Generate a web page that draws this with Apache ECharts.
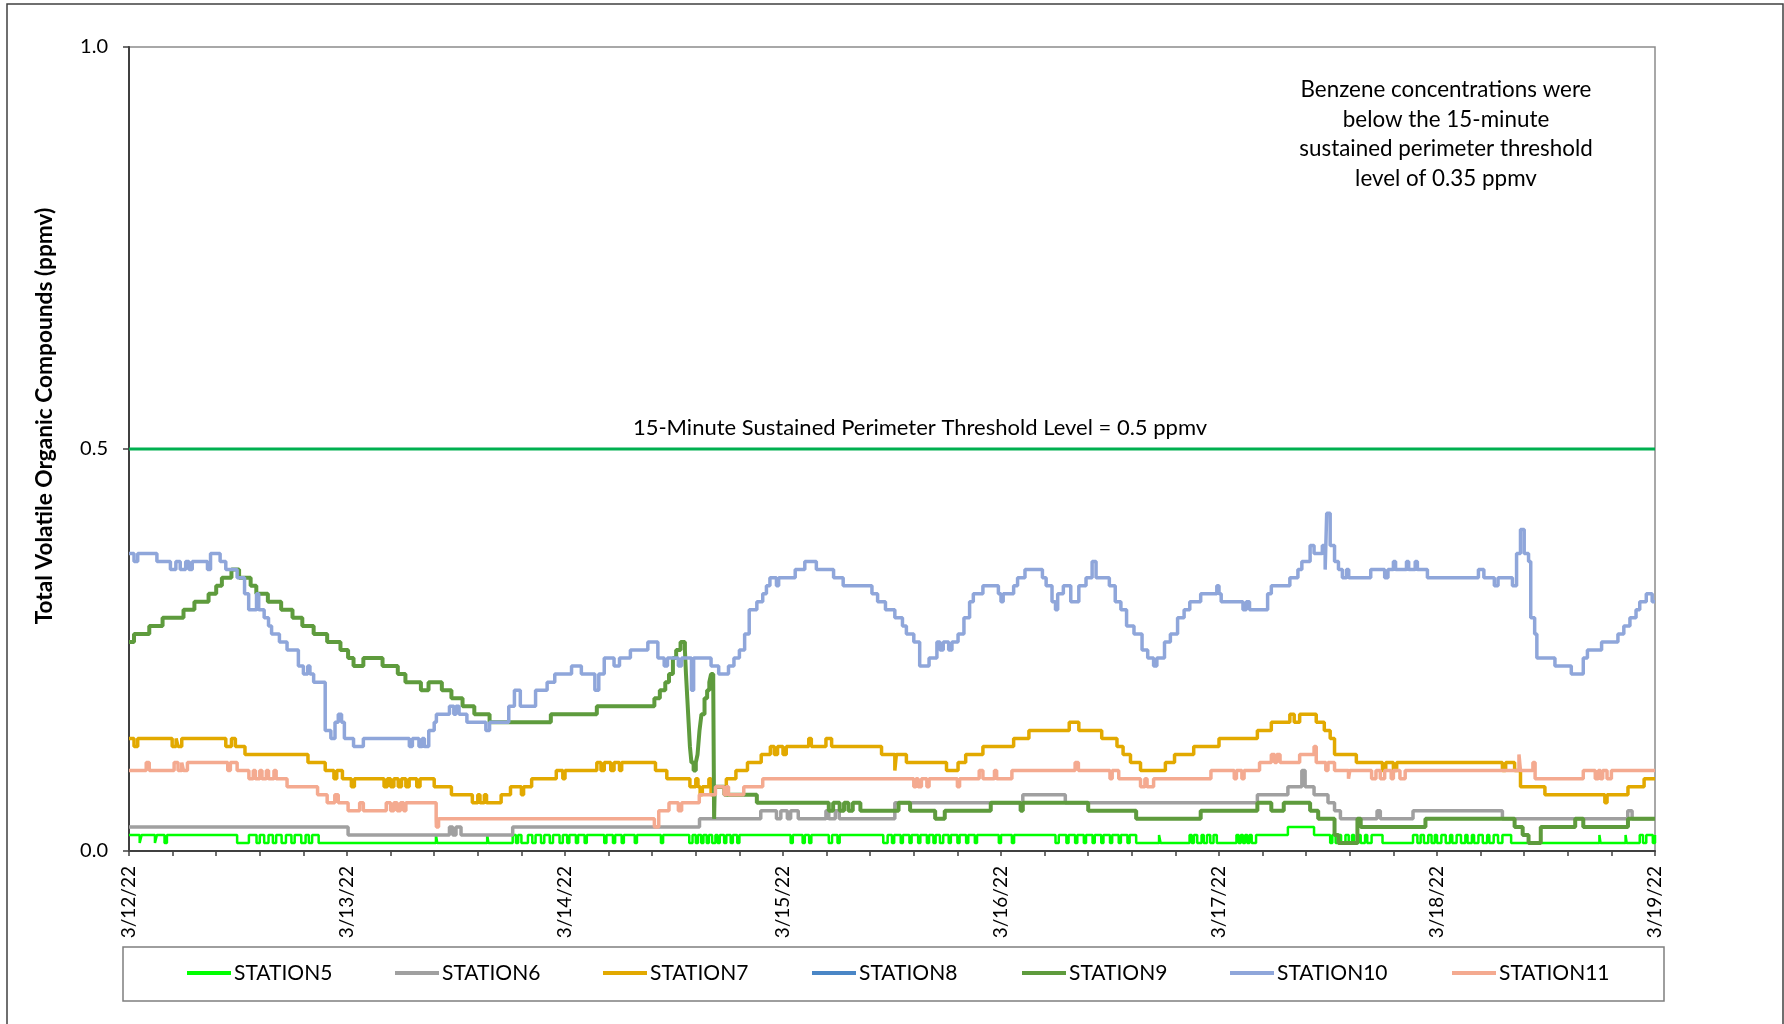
<!DOCTYPE html>
<html>
<head>
<meta charset="utf-8">
<script src="https://cdn.jsdelivr.net/npm/echarts@6/dist/echarts.min.js"></script>
<style>
html,body{margin:0;padding:0;background:#fff;}
#chart{width:1784px;height:1024px;}
</style>
</head>
<body>
<div id="chart"></div>
<script>
// x values = days since 3/12/22 00:00; y values = ppmv. Each pair is a change point (value held until next).
const dayLabels = ['3/12/22','3/13/22','3/14/22','3/15/22','3/16/22','3/17/22','3/18/22','3/19/22'];
const yTicks = [0, 0.5, 1.0];
const seriesNames = ['STATION5','STATION6','STATION7','STATION8','STATION9','STATION10','STATION11'];
const thresholdValue = 0.5;
const thresholdLine = [[0, thresholdValue], [7, thresholdValue]];

const station5 = [[0,0.02],[0.049,0.01],[0.058,0.02],[0.119,0.01],[0.128,0.02],[0.163,0.01],[0.174,0.02],
[0.496,0.01],[0.55,0.02],[0.585,0.01],[0.6,0.02],[0.62,0.01],[0.64,0.02],[0.66,0.01],[0.675,0.02],[0.7,0.01],[0.72,0.02],[0.745,0.01],[0.76,0.02],[0.79,0.01],[0.81,0.02],[0.825,0.01],[0.84,0.02],[0.87,0.01],
[1.408,0.02],[1.414,0.01],[1.643,0.02],[1.649,0.01],
[1.76,0.02],[1.775,0.01],[1.785,0.02],[1.8,0.01],[1.83,0.02],[1.85,0.01],[1.865,0.02],[1.89,0.01],[1.905,0.02],[1.93,0.01],[1.945,0.02],[1.975,0.01],[1.99,0.02],[2.01,0.01],[2.02,0.02],[2.05,0.01],[2.06,0.02],[2.09,0.01],[2.1,0.02],[2.18,0.01],[2.19,0.02],[2.22,0.01],[2.23,0.02],[2.26,0.01],[2.27,0.02],[2.32,0.01],[2.33,0.02],[2.44,0.01],[2.45,0.02],[2.57,0.01],[2.585,0.02],
[2.6,0.01],[2.61,0.02],[2.625,0.01],[2.635,0.02],[2.65,0.01],[2.66,0.02],[2.675,0.01],[2.69,0.02],[2.7,0.01],[2.71,0.02],[2.73,0.01],[2.74,0.02],[2.76,0.01],[2.77,0.02],[2.79,0.01],[2.8,0.02],
[3.035,0.01],[3.045,0.02],[3.09,0.01],[3.1,0.02],[3.12,0.01],[3.13,0.02],[3.21,0.01],[3.225,0.02],[3.25,0.01],[3.26,0.02],
[3.46,0.01],[3.48,0.02],[3.5,0.01],[3.51,0.02],[3.54,0.01],[3.55,0.02],[3.58,0.01],[3.59,0.02],[3.62,0.01],[3.63,0.02],[3.66,0.01],[3.67,0.02],[3.69,0.01],[3.7,0.02],[3.72,0.01],[3.735,0.02],[3.76,0.01],[3.77,0.02],[3.8,0.01],[3.81,0.02],[3.84,0.01],[3.85,0.02],[3.88,0.01],[3.89,0.02],
[3.99,0.01],[4.0,0.02],[4.05,0.01],[4.06,0.02],
[4.25,0.01],[4.265,0.02],[4.3,0.01],[4.31,0.02],[4.34,0.01],[4.35,0.02],[4.38,0.01],[4.39,0.02],[4.42,0.01],[4.43,0.02],[4.46,0.01],[4.47,0.02],[4.5,0.01],[4.51,0.02],[4.54,0.01],[4.55,0.02],[4.58,0.01],[4.59,0.02],[4.62,0.01],
[4.725,0.02],[4.732,0.01],[4.865,0.02],[4.875,0.01],[4.885,0.02],[4.9,0.01],[4.92,0.02],[4.93,0.01],[4.945,0.02],[4.96,0.01],[4.975,0.02],[4.99,0.01],
[5.08,0.02],[5.09,0.01],[5.1,0.02],[5.11,0.01],[5.12,0.02],[5.13,0.01],[5.14,0.02],[5.15,0.01],[5.17,0.02],[5.316,0.03],[5.436,0.02],
[5.51,0.01],[5.52,0.02],[5.535,0.01],[5.55,0.02],[5.56,0.01],[5.58,0.02],[5.595,0.01],[5.61,0.02],[5.62,0.01],[5.64,0.02],[5.65,0.01],[5.67,0.02],[5.68,0.01],[5.7,0.02],[5.75,0.01],
[5.89,0.02],[5.91,0.01],[5.925,0.02],[5.94,0.01],[5.96,0.02],[5.975,0.01],[5.99,0.02],[6.0,0.01],[6.02,0.02],[6.04,0.01],[6.06,0.02],[6.07,0.01],[6.09,0.02],[6.11,0.01],[6.13,0.02],[6.14,0.01],[6.16,0.02],[6.17,0.01],[6.19,0.02],[6.21,0.01],[6.23,0.02],[6.24,0.01],[6.26,0.02],[6.28,0.01],[6.3,0.02],[6.34,0.01],
[6.745,0.02],[6.75,0.01],[6.865,0.02],[6.87,0.01],[6.93,0.02],[6.945,0.01],[6.96,0.02],[6.99,0.01],[7,0.02]];

const station6 = [[0,0.03],[1.005,0.02],[1.47,0.03],[1.485,0.02],[1.5,0.03],[1.523,0.02],[1.76,0.03],[2.617,0.04],[2.898,0.05],[2.97,0.04],[2.99,0.05],[3.02,0.04],[3.035,0.05],[3.07,0.04],[3.197,0.05],[3.21,0.04],[3.24,0.05],[3.258,0.04],[3.513,0.06],[4.1,0.07],[4.295,0.06],[5.176,0.07],[5.316,0.08],[5.38,0.10],[5.395,0.08],[5.436,0.07],[5.5,0.06],[5.53,0.05],[5.557,0.04],[5.725,0.05],[5.74,0.04],[5.89,0.05],[6.3,0.04],[6.875,0.05],[6.895,0.04],[7,0.04]];

const station7 = [[0,0.14],[0.023,0.13],[0.04,0.14],[0.198,0.13],[0.216,0.14],[0.225,0.13],[0.242,0.14],[0.444,0.13],[0.47,0.14],[0.488,0.13],[0.532,0.12],[0.821,0.11],[0.9,0.10],[0.94,0.09],[0.953,0.10],[0.979,0.09],[1.02,0.08],[1.034,0.09],[1.17,0.08],[1.185,0.09],[1.2,0.08],[1.215,0.09],[1.235,0.08],[1.25,0.09],[1.27,0.08],[1.285,0.09],[1.32,0.08],[1.335,0.09],[1.4,0.08],[1.479,0.07],[1.575,0.06],[1.6,0.07],[1.61,0.06],[1.63,0.07],[1.64,0.06],[1.707,0.07],[1.75,0.08],[1.8,0.07],[1.81,0.08],[1.847,0.09],[1.96,0.10],[1.99,0.09],[2.0,0.10],[2.146,0.11],[2.165,0.10],[2.18,0.11],[2.21,0.10],[2.225,0.11],[2.25,0.10],[2.26,0.11],[2.415,0.10],[2.467,0.09],[2.573,0.08],[2.6,0.09],[2.61,0.08],[2.62,0.07],[2.63,0.08],[2.66,0.09],[2.67,0.07],[2.68,0.08],[2.74,0.09],[2.784,0.10],[2.837,0.11],[2.9,0.12],[2.942,0.13],[2.96,0.12],[2.975,0.13],[3.0,0.12],[3.015,0.13],[3.118,0.14],[3.13,0.13],[3.197,0.14],[3.223,0.13],[3.452,0.12],[3.513,0.10],[3.52,0.12],[3.566,0.11],[3.75,0.10],[3.803,0.11],[3.838,0.12],[3.917,0.13],[4.058,0.14],[4.128,0.15],[4.313,0.16],[4.357,0.15],[4.462,0.14],[4.532,0.13],[4.56,0.12],[4.594,0.11],[4.64,0.10],[4.754,0.11],[4.796,0.12],[4.884,0.13],[5.0,0.14],[5.176,0.15],[5.24,0.16],[5.325,0.17],[5.345,0.16],[5.37,0.17],[5.446,0.16],[5.483,0.15],[5.51,0.14],[5.53,0.12],[5.63,0.11],[5.75,0.10],[5.765,0.11],[5.8,0.10],[5.815,0.11],[6.3,0.10],[6.315,0.11],[6.356,0.10],[6.383,0.08],[6.495,0.07],[6.77,0.06],[6.78,0.07],[6.876,0.08],[6.95,0.09],[7,0.09]];

const station8 = [];

const station9 = [[0,0.26],[0.023,0.27],[0.093,0.28],[0.154,0.29],[0.25,0.30],[0.3,0.31],[0.365,0.32],[0.4,0.33],[0.426,0.34],[0.47,0.35],[0.505,0.34],[0.558,0.33],[0.584,0.32],[0.637,0.31],[0.698,0.30],[0.75,0.29],[0.795,0.28],[0.847,0.27],[0.909,0.26],[0.97,0.25],[1.005,0.24],[1.03,0.23],[1.075,0.24],[1.163,0.23],[1.233,0.22],[1.268,0.21],[1.339,0.20],[1.374,0.21],[1.435,0.20],[1.479,0.19],[1.53,0.18],[1.584,0.17],[1.654,0.16],[1.935,0.17],[2.146,0.18],[2.41,0.19],[2.435,0.20],[2.46,0.21],[2.477,0.22],[2.495,0.24],[2.51,0.25],[2.53,0.26],[2.55,0.25],[2.555,0.22],[2.561,0.19],[2.567,0.16],[2.573,0.13],[2.58,0.11],[2.59,0.10],[2.6,0.11],[2.608,0.12],[2.617,0.15],[2.626,0.17],[2.64,0.19],[2.652,0.20],[2.662,0.21],[2.67,0.22],[2.68,0.21],[2.684,0.04],[2.687,0.08],[2.731,0.07],[2.88,0.06],[3.21,0.05],[3.23,0.06],[3.26,0.05],[3.28,0.06],[3.3,0.05],[3.32,0.06],[3.355,0.05],[3.53,0.06],[3.583,0.05],[3.698,0.04],[3.742,0.05],[3.953,0.06],[4.09,0.05],[4.1,0.06],[4.40,0.05],[4.62,0.04],[4.916,0.05],[5.176,0.06],[5.24,0.05],[5.297,0.06],[5.418,0.05],[5.455,0.04],[5.53,0.02],[5.548,0.01],[5.635,0.04],[5.65,0.03],[5.947,0.04],[6.356,0.03],[6.393,0.02],[6.42,0.01],[6.476,0.03],[6.634,0.04],[6.671,0.03],[6.876,0.04],[7,0.04]];

const station10 = [[0,0.37],[0.023,0.36],[0.04,0.37],[0.128,0.36],[0.19,0.35],[0.215,0.36],[0.235,0.35],[0.26,0.36],[0.275,0.35],[0.29,0.36],[0.36,0.35],[0.374,0.37],[0.418,0.36],[0.444,0.35],[0.496,0.34],[0.53,0.32],[0.549,0.30],[0.585,0.32],[0.595,0.30],[0.62,0.29],[0.64,0.28],[0.654,0.27],[0.69,0.26],[0.725,0.25],[0.777,0.23],[0.8,0.22],[0.82,0.23],[0.83,0.22],[0.847,0.21],[0.9,0.15],[0.926,0.14],[0.945,0.16],[0.96,0.17],[0.975,0.16],[0.988,0.14],[1.03,0.13],[1.075,0.14],[1.286,0.13],[1.3,0.14],[1.33,0.13],[1.345,0.14],[1.355,0.13],[1.375,0.15],[1.4,0.16],[1.41,0.17],[1.47,0.18],[1.49,0.17],[1.5,0.18],[1.514,0.17],[1.55,0.16],[1.637,0.15],[1.654,0.16],[1.742,0.18],[1.768,0.20],[1.795,0.18],[1.865,0.20],[1.918,0.21],[1.953,0.22],[2.03,0.23],[2.075,0.22],[2.137,0.20],[2.155,0.22],[2.18,0.24],[2.225,0.23],[2.25,0.24],[2.3,0.25],[2.38,0.26],[2.426,0.24],[2.455,0.23],[2.47,0.24],[2.52,0.23],[2.535,0.24],[2.58,0.20],[2.59,0.24],[2.67,0.23],[2.705,0.22],[2.75,0.23],[2.775,0.24],[2.8,0.25],[2.824,0.27],[2.845,0.30],[2.88,0.31],[2.907,0.32],[2.924,0.33],[2.94,0.34],[2.97,0.33],[2.98,0.34],[3.056,0.35],[3.1,0.36],[3.153,0.35],[3.232,0.34],[3.276,0.33],[3.408,0.32],[3.434,0.31],[3.47,0.30],[3.513,0.29],[3.548,0.28],[3.566,0.27],[3.6,0.26],[3.627,0.23],[3.67,0.24],[3.706,0.26],[3.72,0.25],[3.735,0.26],[3.76,0.25],[3.775,0.26],[3.803,0.27],[3.83,0.29],[3.856,0.31],[3.873,0.32],[3.917,0.33],[3.988,0.32],[4.0,0.31],[4.01,0.32],[4.058,0.33],[4.076,0.34],[4.11,0.35],[4.19,0.34],[4.207,0.33],[4.234,0.31],[4.25,0.30],[4.26,0.32],[4.286,0.33],[4.32,0.31],[4.357,0.33],[4.39,0.34],[4.418,0.36],[4.436,0.34],[4.497,0.33],[4.524,0.31],[4.55,0.30],[4.576,0.28],[4.61,0.27],[4.647,0.25],[4.673,0.24],[4.7,0.23],[4.715,0.24],[4.75,0.26],[4.777,0.27],[4.81,0.29],[4.84,0.30],[4.866,0.31],[4.916,0.32],[4.99,0.33],[5.0,0.32],[5.01,0.31],[5.11,0.30],[5.125,0.31],[5.14,0.30],[5.223,0.32],[5.24,0.33],[5.325,0.34],[5.362,0.35],[5.38,0.36],[5.418,0.38],[5.436,0.37],[5.474,0.38],[5.487,0.35],[5.494,0.42],[5.51,0.38],[5.53,0.36],[5.548,0.35],[5.566,0.34],[5.585,0.35],[5.595,0.34],[5.696,0.35],[5.76,0.34],[5.775,0.35],[5.8,0.36],[5.81,0.35],[5.86,0.36],[5.87,0.35],[5.9,0.36],[5.91,0.35],[5.956,0.34],[6.19,0.35],[6.215,0.34],[6.263,0.33],[6.28,0.34],[6.346,0.33],[6.365,0.37],[6.383,0.40],[6.4,0.37],[6.42,0.36],[6.43,0.29],[6.448,0.27],[6.458,0.24],[6.541,0.23],[6.616,0.22],[6.671,0.24],[6.69,0.25],[6.755,0.26],[6.83,0.27],[6.857,0.28],[6.885,0.29],[6.913,0.30],[6.93,0.31],[6.96,0.32],[6.987,0.31],[7,0.31]];

const station11 = [[0,0.10],[0.079,0.11],[0.093,0.10],[0.207,0.11],[0.225,0.10],[0.242,0.11],[0.25,0.10],[0.268,0.11],[0.453,0.10],[0.465,0.11],[0.496,0.10],[0.55,0.09],[0.57,0.10],[0.58,0.09],[0.6,0.10],[0.61,0.09],[0.63,0.10],[0.64,0.09],[0.665,0.10],[0.675,0.09],[0.725,0.08],[0.865,0.07],[0.909,0.06],[0.944,0.07],[0.96,0.06],[1.005,0.05],[1.058,0.06],[1.075,0.05],[1.18,0.06],[1.2,0.05],[1.215,0.06],[1.23,0.05],[1.245,0.06],[1.26,0.05],[1.27,0.06],[1.409,0.04],[1.41,0.03],[1.42,0.04],[2.41,0.03],[2.43,0.05],[2.477,0.06],[2.52,0.05],[2.535,0.06],[2.616,0.07],[2.69,0.08],[2.73,0.07],[2.74,0.08],[2.75,0.07],[2.82,0.08],[2.907,0.09],[3.6,0.08],[3.61,0.09],[3.62,0.08],[3.635,0.09],[3.66,0.08],[3.67,0.09],[3.8,0.08],[3.81,0.09],[3.9,0.10],[3.917,0.09],[3.97,0.10],[3.98,0.09],[4.05,0.10],[4.34,0.11],[4.355,0.10],[4.5,0.09],[4.51,0.10],[4.54,0.09],[4.64,0.08],[4.66,0.09],[4.67,0.08],[4.7,0.09],[4.963,0.10],[5.07,0.09],[5.08,0.10],[5.105,0.09],[5.115,0.10],[5.186,0.11],[5.24,0.12],[5.255,0.11],[5.265,0.12],[5.28,0.11],[5.37,0.12],[5.436,0.13],[5.446,0.11],[5.49,0.10],[5.5,0.11],[5.53,0.10],[5.594,0.09],[5.6,0.10],[5.7,0.09],[5.72,0.10],[5.74,0.09],[5.76,0.10],[5.79,0.09],[5.80,0.10],[5.83,0.09],[5.854,0.10],[6.376,0.12],[6.383,0.10],[6.44,0.11],[6.45,0.09],[6.671,0.10],[6.726,0.09],[6.74,0.10],[6.75,0.09],[6.76,0.10],[6.78,0.09],[6.80,0.10],[7,0.10]];

const seriesData = [station5, station6, station7, station8, station9, station10, station11];
const seriesColors = ['#00FF00','#A0A0A0','#E2A900','#4A86C6','#5E9B3D','#8FA6DA','#F4AA90'];
const seriesWidths = [2.5, 3.5, 3.5, 3.5, 4, 3.5, 3.5];
const legendLeft = [187, 395, 603, 812, 1022, 1230, 1452];

const FONT = 'Lato, "Open Sans", sans-serif';
const chart = echarts.init(document.getElementById('chart'));

const series = [{
  name: 'threshold', type: 'line', data: thresholdLine, showSymbol: false, silent: true,
  lineStyle: {color: '#00B050', width: 3}, itemStyle: {color: '#00B050'}, z: 1
}];
seriesNames.forEach((n, i) => {
  series.push({
    name: n, type: 'line', step: 'end', data: seriesData[i], showSymbol: false, symbol: 'none',
    lineStyle: {color: seriesColors[i], width: seriesWidths[i]}, itemStyle: {color: seriesColors[i]},
    z: 2 + i, sampling: null
  });
});

const legends = seriesNames.map((n, i) => ({
  data: [n], left: legendLeft[i], top: 960, orient: 'horizontal', padding: 0,
  icon: 'rect', itemWidth: 44, itemHeight: 4, selectedMode: false,
  textStyle: {fontFamily: FONT, fontSize: 21, color: '#000', lineHeight: 26, padding: [0,0,0,-2]}
}));

chart.setOption({
  animation: false,
  backgroundColor: '#fff',
  grid: {left: 129, right: 129, top: 47, bottom: 173, show: true, borderColor: '#8c8c8c', borderWidth: 1.5},
  xAxis: {
    type: 'value', min: 0, max: 7, interval: 0.2,
    axisLine: {show: true, lineStyle: {color: '#404040', width: 2}},
    axisTick: {show: true, inside: false, length: 5, lineStyle: {color: '#404040', width: 1.5}},
    splitLine: {show: false},
    axisLabel: {
      interval: 0, rotate: 90, margin: 15, fontFamily: FONT, fontSize: 19, color: '#000',
      formatter: v => (Math.abs(v - Math.round(v)) < 1e-6 ? dayLabels[Math.round(v)] : '')
    }
  },
  yAxis: {
    type: 'value', min: yTicks[0], max: yTicks[yTicks.length - 1], interval: 0.5,
    axisLine: {show: true, lineStyle: {color: '#404040', width: 2}},
    axisTick: {show: true, inside: false, length: 6, lineStyle: {color: '#404040', width: 1.5}},
    splitLine: {show: false},
    axisLabel: {margin: 21, fontFamily: FONT, fontSize: 20, color: '#000', formatter: v => v.toFixed(1)}
  },
  legend: legends,
  series: series,
  graphic: [
    {type: 'rect', shape: {x: 7, y: 4, width: 1776, height: 1100}, style: {fill: 'none', stroke: '#404040', lineWidth: 1.5}, silent: true, z: -1},
    {type: 'rect', shape: {x: 123, y: 947, width: 1541, height: 54}, style: {fill: 'none', stroke: '#7f7f7f', lineWidth: 1.5}, silent: true},
    {type: 'text', x: 45, y: 416, rotation: Math.PI / 2,
     style: {text: 'Total Volatile Organic Compounds (ppmv)', fill: '#000', font: 'bold 22.7px ' + FONT, textAlign: 'center', textVerticalAlign: 'middle'}},
    {type: 'text', x: 920, y: 428,
     style: {text: '15-Minute Sustained Perimeter Threshold Level = ' + thresholdValue + ' ppmv', fill: '#000', font: '22px ' + FONT, textAlign: 'center', textVerticalAlign: 'middle'}},
    {type: 'text', x: 1446, y: 75,
     style: {text: 'Benzene concentrations were\nbelow the 15-minute\nsustained perimeter threshold\nlevel of 0.35 ppmv', fill: '#000', font: '22.4px ' + FONT, lineHeight: 29.6, textAlign: 'center', textVerticalAlign: 'top'}}
  ]
});
</script>
</body>
</html>
